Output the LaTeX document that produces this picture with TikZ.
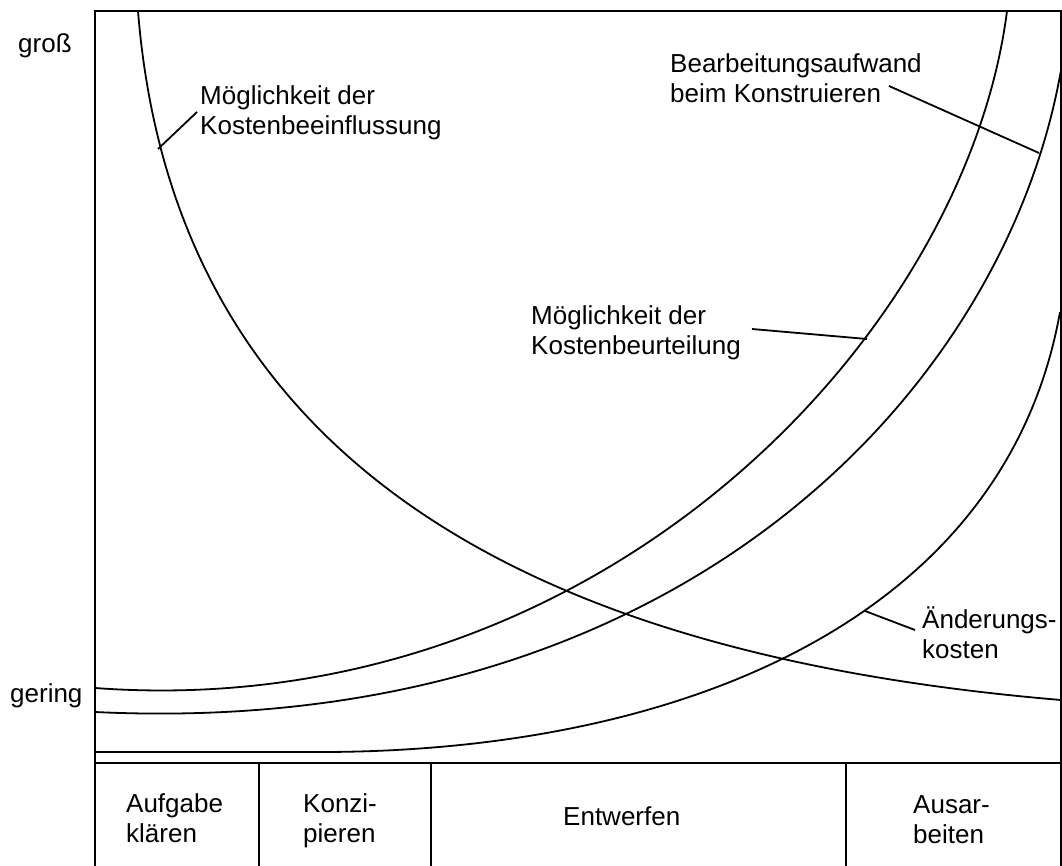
\documentclass[tikz,border=0pt]{standalone}
\usepackage{fontspec}
\setmainfont{Liberation Sans}
\begin{document}
\begin{tikzpicture}[x=1pt,y=-1pt,
  lbl/.style={font=\fontsize{26}{30}\selectfont, align=left, anchor=base west, inner sep=0pt},
  curve/.style={line width=1.8pt},
  leader/.style={line width=1.8pt},
  frame/.style={line width=2pt}]
\useasboundingbox (0,0) rectangle (1062,866);
% frame and phase table
\draw[frame] (95,866) -- (95,11) -- (1061,11) -- (1061,866);
\draw[frame] (95,763) -- (1061,763);
\draw[frame] (259,763) -- (259,866);
\draw[frame] (431,763) -- (431,866);
\draw[frame] (846,763) -- (846,866);
% curves
\draw[curve] (138,11) .. controls (178,511) and (611,662) .. (1061,700);
\draw[curve] (95,688) .. controls (595,725) and (965,340) .. (1007,11);
\draw[curve] (95,712) .. controls (680,740) and (1005,390) .. (1061,70);
\draw[curve] (95,752) -- (320,752) .. controls (680,752) and (1005,620) .. (1060,312);
% labels (anchor = baseline of last line)
\node[lbl] (gross) at (18,53) {groß};
\node[lbl] (gering) at (10,702) {gering};
\node[lbl] (beein) at (200,135) {Möglichkeit der\\Kostenbeeinflussung};
\node[lbl] (bearb) at (670,103) {Bearbeitungsaufwand\\beim Konstruieren};
\node[lbl] (beurt) at (531,354) {Möglichkeit der\\Kostenbeurteilung};
\node[lbl] (aend) at (922,658) {Änderungs-\\kosten};
\node[lbl] (auf) at (126,842) {Aufgabe\\klären};
\node[lbl] (konz) at (303,842) {Konzi-\\pieren};
\node[lbl] (entw) at (563,825) {Entwerfen};
\node[lbl] (ausa) at (913,843) {Ausar-\\beiten};
% leader lines
\coordinate (a1) at (197,112); \coordinate (b1) at (158,149);
\coordinate (a2) at (752,329); \coordinate (b2) at (867,339);
\coordinate (a3) at (889,86);  \coordinate (b3) at (1039,153);
\coordinate (a4) at (915,630); \coordinate (b4) at (865,611);
\draw[leader] (a1) -- (b1);
\draw[leader] (a2) -- (b2);
\draw[leader] (a3) -- (b3);
\draw[leader] (a4) -- (b4);
\end{tikzpicture}
\end{document}
